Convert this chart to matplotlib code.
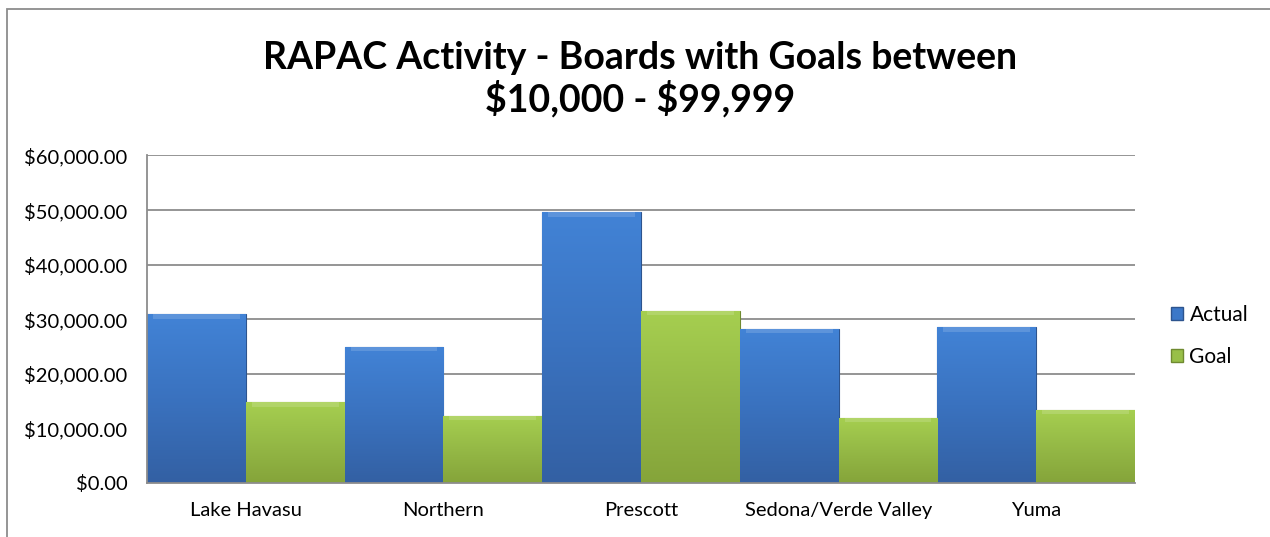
import matplotlib
matplotlib.use("Agg")
import matplotlib.pyplot as plt
import numpy as np
from matplotlib.patches import Rectangle, Patch
from matplotlib.colors import LinearSegmentedColormap

categories = ["Lake Havasu", "Northern", "Prescott", "Sedona/Verde Valley", "Yuma"]
actual = [30900, 24900, 49600, 28300, 28500]
goal = [14800, 12300, 31600, 12000, 13350]
series_names = ["Actual", "Goal"]
yticks = [0, 10000, 20000, 30000, 40000, 50000, 60000]

plt.rcParams['font.family'] = ['Lato', 'DejaVu Sans']

W, H = 1270, 537
fig = plt.figure(figsize=(W / 100, H / 100), dpi=100)
fig.patch.set_facecolor("white")

# outer chart border (cut at right/bottom like the reference)
fig.patches.append(Rectangle((7 / W, -0.05), 1.1, (H - 9) / H + 0.05, transform=fig.transFigure,
                             fill=False, edgecolor="#8c8c8c", linewidth=1.3))

ax = fig.add_axes([147 / W, (H - 483) / H, (1135 - 147) / W, (483 - 155.5) / H])
x = np.arange(len(categories))
w = 0.5

blue_cmap = LinearSegmentedColormap.from_list("b", ["#3360a3", "#3a72bf", "#4283d6"])
green_cmap = LinearSegmentedColormap.from_list("g", ["#85a43a", "#95b946", "#a6cf50"])

b1 = ax.bar(x - w / 2, actual, width=w, color="#3c78c8", edgecolor="#2d548e", linewidth=0.8, zorder=3)
b2 = ax.bar(x + w / 2, goal, width=w, color="#98bf48", edgecolor="#6f8a30", linewidth=0.8, zorder=3)

grad = np.linspace(0, 1, 256).reshape(-1, 1)
for bars, cmap in ((b1, blue_cmap), (b2, green_cmap)):
    for bar in bars:
        x0, y0 = bar.get_x(), bar.get_y()
        bw, bh = bar.get_width(), bar.get_height()
        im = ax.imshow(grad, cmap=cmap, aspect="auto", origin="lower",
                       extent=(x0, x0 + bw, y0, y0 + bh), zorder=3.5)
        im.set_clip_path(bar)
        # bevel highlight strip on top
        ax.add_patch(Rectangle((x0 + 0.03, y0 + bh - 800), bw - 0.06, 800,
                               facecolor="white", alpha=0.15, linewidth=0, zorder=3.6))

ax.set_xlim(-0.5, len(categories) - 0.5)
ax.set_ylim(0, 60000)
ax.set_yticks(yticks)
ax.set_yticklabels([f"${v:,.2f}" for v in yticks])
ax.set_xticks(x)
ax.set_xticklabels(categories)
ax.tick_params(axis="y", length=0, pad=14, labelsize=14.5, colors="black")
ax.tick_params(axis="x", length=0, pad=14, labelsize=14.5, colors="black")
ax.grid(axis="y", color="#8c8c8c", linewidth=1.3, zorder=0)
ax.set_axisbelow(True)
for s in ("top", "right"):
    ax.spines[s].set_visible(False)
for s in ("left", "bottom"):
    ax.spines[s].set_color("#8c8c8c")
    ax.spines[s].set_linewidth(1.3)
    ax.spines[s].set_zorder(5)

fig.text(640 / W, 1 - 79 / H, "RAPAC Activity - Boards with Goals between\n\\$10,000 - \\$99,999",
         ha="center", va="center", fontsize=27, fontweight="bold", linespacing=1.15)

handles = [Patch(facecolor="#3c78c8", edgecolor="#2d548e"),
           Patch(facecolor="#98bf48", edgecolor="#6f8a30")]
fig.legend(handles, series_names, loc="center left", bbox_to_anchor=(1152 / W, 1 - 336 / H),
           frameon=False, fontsize=15, handlelength=0.6, handleheight=0.6,
           handletextpad=0.3, labelspacing=1.05)

fig.savefig("out.png", dpi=100, facecolor="white")
